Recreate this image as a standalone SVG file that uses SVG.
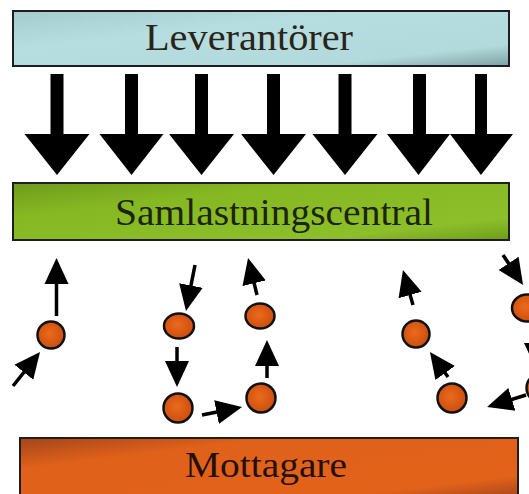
<svg xmlns="http://www.w3.org/2000/svg" width="529" height="494" viewBox="0 0 529 494">
<style>
.box{stroke:#1e1e1e;stroke-width:2}
.lbl{font-family:"Liberation Serif","Times New Roman",serif;text-anchor:middle}
.big{fill:#000}
.dot{fill:url(#gDot);stroke:#111;stroke-width:2.5}
.conn{stroke:#000;stroke-width:3.5;fill:none;marker-end:url(#ah)}
</style>
<defs>
<linearGradient id="gTop" x1="0" y1="0" x2="1" y2="1">
<stop offset="0" stop-color="#a4cacd"/>
<stop offset="0.35" stop-color="#b6dee1"/>
<stop offset="0.8" stop-color="#b2dadd"/>
<stop offset="1" stop-color="#80a0a2"/>
</linearGradient>
<linearGradient id="gGreen" x1="0" y1="0" x2="1" y2="1">
<stop offset="0" stop-color="#6f9b1b"/>
<stop offset="0.3" stop-color="#86b823"/>
<stop offset="0.8" stop-color="#8cbf2a"/>
<stop offset="1" stop-color="#6f9c1c"/>
</linearGradient>
<linearGradient id="gOrange" x1="0" y1="0" x2="1" y2="1">
<stop offset="0" stop-color="#a3451a"/>
<stop offset="0.25" stop-color="#e0611a"/>
<stop offset="0.8" stop-color="#e2621a"/>
<stop offset="1" stop-color="#a0421a"/>
</linearGradient>
<radialGradient id="gDot" cx="0.45" cy="0.45" r="0.6">
<stop offset="0" stop-color="#ec6a1c"/>
<stop offset="1" stop-color="#c94c0e"/>
</radialGradient>
<marker id="ah" markerUnits="userSpaceOnUse" viewBox="0 0 26 26" markerWidth="26" markerHeight="26" refX="16" refY="13" orient="auto">
<path d="M0,1 L26,13 L0,25 z" fill="#000"/>
</marker>
</defs>
<rect width="529" height="494" fill="#fff"/>

<g id="leverantorer">
<rect class="box" x="13" y="11" width="496" height="55" fill="url(#gTop)"/>
<text class="lbl" x="249" y="50" font-size="38" fill="#2a2418" textLength="208" lengthAdjust="spacingAndGlyphs">Leverantörer</text>
</g>

<g id="big-arrows">
<polygon class="big" points="50.5,74 63.5,74 63.5,134 89.5,134 57,175 24.5,134 50.5,134"/>
<polygon class="big" points="125,74 138,74 138,134 163.5,134 131.5,175 99.5,134 125,134"/>
<polygon class="big" points="195,74 208,74 208,134 234,134 201.5,175 169,134 195,134"/>
<polygon class="big" points="267,74 280,74 280,134 306,134 273.5,175 241,134 267,134"/>
<polygon class="big" points="338.5,74 351.5,74 351.5,134 377.5,134 345,175 312.5,134 338.5,134"/>
<polygon class="big" points="413,74 426,74 426,134 450,134 418.5,175 387,134 413,134"/>
<polygon class="big" points="475,74 487,74 487,134 513,134 481,175 450,134 475,134"/>
</g>

<g id="samlastningscentral">
<rect class="box" x="13" y="183" width="496" height="57" fill="url(#gGreen)"/>
<text class="lbl" x="274" y="225" font-size="38" fill="#1c2508" textLength="318" lengthAdjust="spacingAndGlyphs">Samlastningscentral</text>
</g>

<g id="mottagare">
<rect class="box" x="20" y="438" width="498" height="62" fill="url(#gOrange)"/>
<text class="lbl" x="266" y="477" font-size="36" fill="#24100a" textLength="162" lengthAdjust="spacingAndGlyphs">Mottagare</text>
</g>

<g id="connectors">
<line class="conn" x1="13" y1="386" x2="33.8" y2="359.8"/>
<line class="conn" x1="56.5" y1="316" x2="56.5" y2="268"/>
<line class="conn" x1="195" y1="265" x2="187.9" y2="301.2"/>
<line class="conn" x1="177" y1="347" x2="177" y2="377"/>
<line class="conn" x1="202" y1="415" x2="232.2" y2="409"/>
<line class="conn" x1="267" y1="378" x2="267" y2="350"/>
<line class="conn" x1="257" y1="295" x2="250.4" y2="267.7"/>
<line class="conn" x1="413" y1="305" x2="405.7" y2="279.6"/>
<line class="conn" x1="448" y1="377" x2="435.8" y2="360.1"/>
<line class="conn" x1="503" y1="255" x2="517.5" y2="276.7"/>
<line class="conn" x1="526" y1="395" x2="496.6" y2="404.1"/>
<line class="conn" x1="536" y1="325" x2="536" y2="359"/>
</g>

<g id="dot-a"><circle class="dot" cx="51" cy="335" r="13.5"/></g>
<g id="dot-b"><ellipse class="dot" cx="179" cy="326" rx="15" ry="12.5"/></g>
<g id="dot-c"><circle class="dot" cx="178" cy="408" r="14.5"/></g>
<g id="dot-d"><circle class="dot" cx="261" cy="398" r="14.5"/></g>
<g id="dot-e"><ellipse class="dot" cx="260" cy="316" rx="14.5" ry="12.5"/></g>
<g id="dot-f"><circle class="dot" cx="416" cy="334" r="13.5"/></g>
<g id="dot-g"><circle class="dot" cx="452" cy="398" r="14.5"/></g>
<g id="dot-h"><ellipse class="dot" cx="527" cy="308" rx="15" ry="13.5"/></g>
<g id="dot-i"><circle class="dot" cx="541" cy="388" r="14.5"/></g>
</svg>
